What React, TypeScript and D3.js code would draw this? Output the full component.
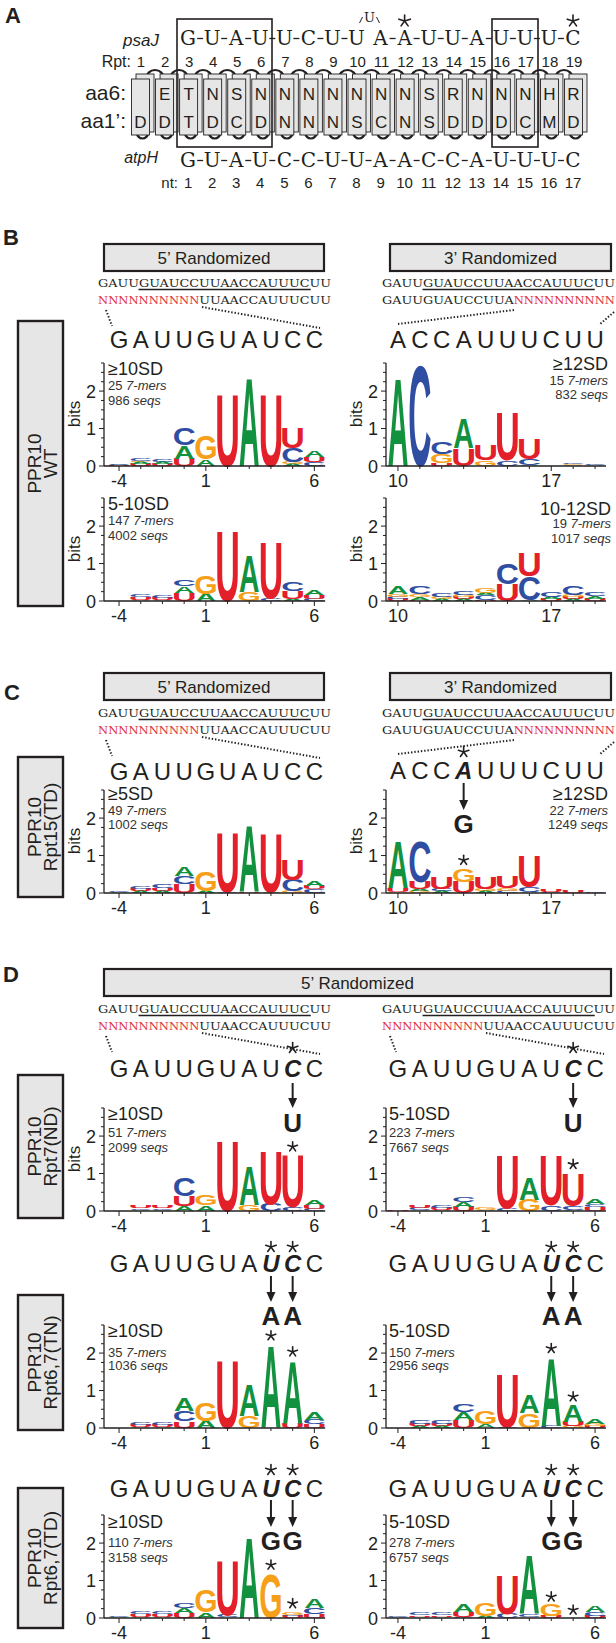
import React from "react";
import * as d3 from "d3";

const SANS = "'Liberation Sans', Arial, Helvetica, sans-serif";
const SERIF = "'DejaVu Serif', 'Liberation Serif', serif";
const INK_DARK = "#231f20";
const GREY = "#e6e6e6";
const RED_N = "#e1343f";
const COLORS: Record<string, string> = { A: "#12913f", C: "#2f4ea2", G: "#f6a01a", U: "#e3202a" };

// ---------- panel A data ----------
const rptNumbers = d3.range(1, 20);
const aa6 = ["", "E", "T", "N", "S", "N", "N", "N", "N", "N", "N", "N", "S", "R", "N", "N", "N", "H", "R"];
const aa1 = ["D", "D", "T", "D", "C", "D", "N", "N", "N", "S", "C", "N", "S", "D", "D", "D", "C", "M", "D"];
const psaJ = "GUAUUCUUAAUUAUUUC".split("");
const atpH = "GUAUCCUUAACCAUUUC".split("");
const ntNumbers = d3.range(1, 18);

// ---------- logo data ----------
const pos5 = [-4, -3, -2, -1, 1, 2, 3, 4, 5, 6];
const pos3 = [10, 11, 12, 13, 14, 15, 16, 17, 18, 19];
const ticks5 = [-4, 1, 6];
const ticks3 = [10, 17];
const target5 = "GAUUGUAUCC".split("");
const target3 = "ACCAUUUCUU".split("");
const probe = "GAUUGUAUCCUUAACCAUUUCUU";

type Stack = [string, number][];

const wt5Hi: Stack[] = [
  [["U", 0.02], ["A", 0.02], ["C", 0.03]],
  [["U", 0.05], ["A", 0.05], ["G", 0.03], ["C", 0.07]],
  [["U", 0.05], ["A", 0.05], ["C", 0.07]],
  [["U", 0.2], ["A", 0.35], ["C", 0.45]],
  [["A", 0.18], ["G", 0.65]],
  [["U", 1.95]],
  [["A", 2.4]],
  [["U", 1.95]],
  [["A", 0.05], ["G", 0.05], ["C", 0.38], ["U", 0.55]],
  [["C", 0.1], ["U", 0.14], ["A", 0.16]],
];
const wt5Lo: Stack[] = [
  [["A", 0.01]],
  [["A", 0.04], ["U", 0.06], ["C", 0.07]],
  [["A", 0.04], ["U", 0.05], ["C", 0.06]],
  [["U", 0.22], ["A", 0.18], ["C", 0.18]],
  [["A", 0.2], ["G", 0.5]],
  [["U", 1.9]],
  [["G", 0.25], ["A", 0.98]],
  [["C", 0.08], ["U", 1.52]],
  [["A", 0.06], ["U", 0.22], ["C", 0.25]],
  [["C", 0.06], ["U", 0.1], ["A", 0.12]],
];
const wt3Hi: Stack[] = [
  [["A", 2.38]],
  [["C", 2.72]],
  [["U", 0.08], ["G", 0.25], ["C", 0.32]],
  [["U", 0.47], ["A", 0.8]],
  [["G", 0.15], ["U", 0.42]],
  [["C", 0.15], ["U", 1.3]],
  [["A", 0.03], ["C", 0.16], ["U", 0.56]],
  [["U", 0.01]],
  [["A", 0.03], ["G", 0.02], ["C", 0.03]],
  [["A", 0.03], ["C", 0.04]],
];
const wt3Lo: Stack[] = [
  [["U", 0.06], ["C", 0.05], ["G", 0.08], ["A", 0.22]],
  [["U", 0.04], ["A", 0.07], ["G", 0.07], ["C", 0.22]],
  [["A", 0.05], ["G", 0.05], ["C", 0.1]],
  [["A", 0.05], ["U", 0.05], ["G", 0.05], ["C", 0.1]],
  [["U", 0.04], ["C", 0.12], ["A", 0.05], ["G", 0.14]],
  [["U", 0.45], ["C", 0.58]],
  [["A", 0.02], ["C", 0.65], ["U", 0.65]],
  [["U", 0.05], ["A", 0.05], ["C", 0.12]],
  [["A", 0.05], ["U", 0.05], ["G", 0.07], ["C", 0.25]],
  [["U", 0.05], ["A", 0.08], ["C", 0.1]],
];
const td15Five: Stack[] = [
  [["A", 0.04], ["C", 0.04]],
  [["A", 0.05], ["U", 0.05], ["C", 0.06]],
  [["A", 0.05], ["U", 0.08], ["C", 0.1]],
  [["U", 0.25], ["C", 0.2], ["A", 0.25]],
  [["A", 0.06], ["G", 0.52]],
  [["C", 0.03], ["U", 1.62]],
  [["U", 0.03], ["A", 1.82]],
  [["A", 0.03], ["U", 1.6]],
  [["G", 0.05], ["C", 0.3], ["U", 0.55]],
  [["C", 0.1], ["U", 0.1], ["A", 0.15]],
];
const td15Three: Stack[] = [
  [["G", 0.04], ["U", 0.1], ["A", 1.28]],
  [["G", 0.05], ["A", 0.05], ["U", 0.2], ["C", 1.1]],
  [["A", 0.06], ["C", 0.06], ["U", 0.3]],
  [["U", 0.3], ["G", 0.36]],
  [["A", 0.05], ["G", 0.06], ["U", 0.3]],
  [["C", 0.06], ["G", 0.08], ["U", 0.3]],
  [["A", 0.03], ["C", 0.12], ["U", 0.85]],
  [["C", 0.04], ["U", 0.06]],
  [["U", 0.05]],
  [["C", 0.04]],
];
const nd7Hi: Stack[] = [
  [["A", 0.01]],
  [["A", 0.04], ["C", 0.04], ["U", 0.05]],
  [["A", 0.04], ["C", 0.04], ["U", 0.05]],
  [["A", 0.13], ["U", 0.27], ["C", 0.48]],
  [["A", 0.15], ["G", 0.28]],
  [["U", 1.92]],
  [["G", 0.17], ["A", 1.05]],
  [["C", 0.2], ["U", 1.45]],
  [["C", 0.1], ["U", 1.4]],
  [["C", 0.05], ["U", 0.1], ["A", 0.15]],
];
const nd7Lo: Stack[] = [
  [["U", 0.03]],
  [["A", 0.04], ["C", 0.05], ["U", 0.06]],
  [["A", 0.04], ["U", 0.05], ["C", 0.06]],
  [["U", 0.12], ["A", 0.12], ["C", 0.15]],
  [["A", 0.03], ["G", 0.06]],
  [["C", 0.08], ["U", 1.47]],
  [["G", 0.3], ["A", 0.6]],
  [["C", 0.15], ["U", 1.36]],
  [["A", 0.03], ["C", 0.1], ["U", 0.9]],
  [["U", 0.1], ["C", 0.08], ["A", 0.12]],
];
const tn67Hi: Stack[] = [
  [["A", 0.01]],
  [["A", 0.04], ["U", 0.05], ["C", 0.07]],
  [["A", 0.04], ["U", 0.05], ["C", 0.06]],
  [["U", 0.18], ["C", 0.27], ["A", 0.35]],
  [["A", 0.2], ["G", 0.48]],
  [["U", 1.85]],
  [["G", 0.32], ["A", 0.85]],
  [["A", 2.25]],
  [["U", 0.12], ["A", 1.7]],
  [["U", 0.1], ["C", 0.12], ["A", 0.2]],
];
const tn67Lo: Stack[] = [
  [["A", 0.01]],
  [["A", 0.05], ["U", 0.07], ["C", 0.1]],
  [["A", 0.05], ["U", 0.07], ["C", 0.1]],
  [["U", 0.22], ["A", 0.22], ["C", 0.22]],
  [["A", 0.1], ["G", 0.35]],
  [["C", 0.04], ["U", 1.45]],
  [["G", 0.4], ["A", 0.5]],
  [["C", 0.06], ["A", 1.85]],
  [["G", 0.05], ["U", 0.12], ["A", 0.45]],
  [["U", 0.05], ["G", 0.05], ["A", 0.12]],
];
const td67Hi: Stack[] = [
  [["A", 0.03], ["C", 0.04]],
  [["A", 0.04], ["U", 0.06], ["C", 0.08]],
  [["A", 0.04], ["U", 0.06], ["C", 0.06]],
  [["U", 0.14], ["A", 0.12], ["C", 0.14]],
  [["A", 0.15], ["G", 0.6]],
  [["A", 0.03], ["C", 0.05], ["U", 1.5]],
  [["A", 2.2]],
  [["G", 1.2]],
  [["U", 0.05], ["C", 0.04], ["G", 0.08]],
  [["U", 0.1], ["C", 0.17], ["A", 0.25]],
];
const td67Lo: Stack[] = [
  [["A", 0.03], ["C", 0.04]],
  [["A", 0.04], ["U", 0.04], ["C", 0.05]],
  [["A", 0.04], ["U", 0.04], ["C", 0.05]],
  [["C", 0.04], ["U", 0.12], ["A", 0.2]],
  [["A", 0.06], ["G", 0.35]],
  [["C", 0.12], ["U", 1.05]],
  [["G", 0.04], ["C", 0.06], ["A", 1.6]],
  [["U", 0.05], ["G", 0.3]],
  [],
  [["U", 0.06], ["C", 0.1], ["A", 0.18]],
];

const sdLabels = ["≥10SD", "5-10SD", "≥12SD", "10-12SD", "≥5SD", "≥12SD", "≥10SD", "5-10SD", "≥10SD", "5-10SD", "≥10SD", "5-10SD"];
const kmerCounts = [25, 147, 15, 19, 49, 22, 51, 223, 35, 150, 110, 278];
const seqCounts = [986, 4002, 832, 1017, 1002, 1249, 2099, 7667, 1036, 2956, 3158, 6757];
const sideLabels = [["PPR10", "WT"], ["PPR10", "Rpt15(TD)"], ["PPR10", "Rpt7(ND)"], ["PPR10", "Rpt6,7(TN)"], ["PPR10", "Rpt6,7(TD)"]];

// columns
const COLS: Record<string, { axis: number; band: [number, number]; seqX: number }> = {
  L: { axis: 104, band: [108.2, 325.2], seqX: 98 },
  R: { axis: 386, band: [387, 606], seqX: 382 },
};

// ---------- small drawing helpers ----------
const INKW: Record<string, number> = { A: 0.72, C: 0.64, G: 0.68, U: 0.6 };

function Glyph({ ch, cx, yb, h, w }: any) {
  if (h <= 0) return null;
  const sx = w / (INKW[ch] * 100);
  const sy = h / 71.6;
  return (
    <text transform={`translate(${cx},${yb}) scale(${sx},${sy})`} fontSize={100} fontFamily={SANS}
      fontWeight="bold" textAnchor="middle" fill={COLORS[ch]}>{ch}</text>
  );
}

function Star({ x, y, r = 5, w = 1.6 }: any) {
  return (
    <g>
      {d3.range(5).map((k) => {
        const a = ((k * 72 - 90) * Math.PI) / 180;
        return <line key={k} x1={x} y1={y} x2={x + r * Math.cos(a)} y2={y + r * Math.sin(a)}
          stroke={INK_DARK} strokeWidth={w} strokeLinecap="round" />;
      })}
    </g>
  );
}

function Arrow({ x, y1, y2 }: any) {
  return (
    <g>
      <line x1={x} y1={y1} x2={x} y2={y2 - 8} stroke={INK_DARK} strokeWidth={2} />
      <path d={`M${x - 4.5},${y2 - 10}L${x + 4.5},${y2 - 10}L${x},${y2}Z`} fill={INK_DARK} />
    </g>
  );
}

function Dotted({ x1, y1, x2, y2 }: any) {
  return <line x1={x1} y1={y1} x2={x2} y2={y2} stroke={INK_DARK} strokeWidth={2} strokeDasharray="1.4 1.9" />;
}

// ---------- panel A ----------
function PanelA() {
  const rx = d3.scaleLinear().domain([1, 19]).range([141, 574]);
  const seqX = (i: number) => rx(i + 3) - 1;
  const seqRow = (letters: string[], base: number, gapAt: number) => (
    <g>
      {letters.map((c, i) => (
        <text key={i} x={seqX(i)} y={base} fontFamily={SERIF} fontSize={20} textAnchor="middle" fill={INK_DARK}>{c}</text>
      ))}
      {letters.slice(0, -1).map((_, i) => {
        if (i === gapAt) return null;
        const m = (seqX(i) + seqX(i + 1)) / 2;
        return <line key={"d" + i} x1={m - 3} x2={m + 3} y1={base - 6.5} y2={base - 6.5} stroke={INK_DARK} strokeWidth={1.3} />;
      })}
    </g>
  );
  return (
    <g>
      <text x={5} y={23} fontSize={22} fontWeight="bold">A</text>
      <text x={159} y={46} fontSize={17} fontStyle="italic" textAnchor="end">psaJ</text>
      {seqRow(psaJ, 45, 7)}
      {/* bulged U */}
      <text x={(rx(10) + rx(11)) / 2} y={22} fontFamily={SERIF} fontSize={13} textAnchor="middle">U</text>
      <line x1={(rx(10) + rx(11)) / 2 - 10} y1={23} x2={(rx(10) + rx(11)) / 2 - 7} y2={17} stroke={INK_DARK} strokeWidth={1} />
      <line x1={(rx(10) + rx(11)) / 2 + 7} y1={17} x2={(rx(10) + rx(11)) / 2 + 10} y2={23} stroke={INK_DARK} strokeWidth={1} />
      <Star x={rx(12) - 1} y={21} r={6} />
      <Star x={rx(19) - 1} y={21} r={6} />

      <text x={131} y={67} fontSize={16} textAnchor="end">Rpt:</text>
      {rptNumbers.map((n) => (
        <text key={n} x={rx(n)} y={67} fontSize={15} textAnchor="middle">{n}</text>
      ))}

      {/* loops behind the repeats */}
      {rptNumbers.slice(0, -1).map((n) => {
        const m = (rx(n) + rx(n + 1)) / 2 + 2;
        return <path key={"lt" + n} d={`M${m - 9},79 A9,9 0 0 1 ${m + 9},79`} fill="none" stroke={INK_DARK} strokeWidth={2.2} />;
      })}
      {rptNumbers.map((n) => (
        <path key={"lb" + n} d={`M${rx(n) - 4},133 A5.5,5.5 0 0 0 ${rx(n) + 7},133`} fill="none" stroke={INK_DARK} strokeWidth={2.2} />
      ))}
      {rptNumbers.map((n, i) => (
        <g key={"b" + n}>
          <rect x={rx(n) - 5} y={74} width={18} height={58} fill={GREY} stroke={INK_DARK} strokeWidth={0.9} />
          <rect x={rx(n) - 9.5} y={79} width={18} height={56} fill={GREY} stroke={INK_DARK} strokeWidth={0.9} />
          <text x={rx(n) - 0.5} y={100} fontSize={17} textAnchor="middle">{aa6[i]}</text>
          <text x={rx(n) - 0.5} y={128} fontSize={17} textAnchor="middle">{aa1[i]}</text>
        </g>
      ))}
      <text x={126} y={100} fontSize={21} textAnchor="end">aa6:</text>
      <text x={126} y={128} fontSize={21} textAnchor="end">aa1’:</text>

      <rect x={177} y={19} width={95} height={128} fill="none" stroke={INK_DARK} strokeWidth={1.6} />
      <rect x={492} y={19} width={46} height={128} fill="none" stroke={INK_DARK} strokeWidth={1.6} />

      <text x={158} y={163} fontSize={16} fontStyle="italic" textAnchor="end">atpH</text>
      {seqRow(atpH, 167, -1)}
      <text x={178} y={188} fontSize={15} textAnchor="end">nt:</text>
      {ntNumbers.map((n, i) => (
        <text key={n} x={seqX(i)} y={188} fontSize={15} textAnchor="middle">{n}</text>
      ))}
    </g>
  );
}

// ---------- panels B-D pieces ----------
function Header({ x1, x2, y, label }: any) {
  return (
    <g>
      <rect x={x1} y={y} width={x2 - x1} height={27} fill={GREY} stroke={INK_DARK} strokeWidth={2.2} />
      <text x={(x1 + x2) / 2} y={y + 20} fontSize={17} textAnchor="middle">{label}</text>
    </g>
  );
}

function ProbeLines({ sx, b1, kind }: any) {
  const cw = 233 / 23;
  const b2 = b1 + 17;
  const txt = (s: string, x: number, y: number, fill: string) => (
    <text x={x} y={y} fontFamily={SERIF} fontSize={11} textLength={s.length * cw} lengthAdjust="spacingAndGlyphs" fill={fill}>{s}</text>
  );
  const nRun = "N".repeat(10);
  return (
    <g>
      {txt(probe, sx, b1, INK_DARK)}
      <line x1={sx + 4 * cw} x2={sx + 21 * cw} y1={b1 + 2.5} y2={b1 + 2.5} stroke={INK_DARK} strokeWidth={1.3} />
      {kind === 5 ? (
        <g>
          {txt(nRun, sx, b2, RED_N)}
          {txt(probe.slice(10), sx + 10 * cw, b2, INK_DARK)}
          <Dotted x1={sx + 8} y1={b2 + 6} x2={sx + 14} y2={b2 + 22} />
          <Dotted x1={sx + 104} y1={b2 + 3} x2={sx + 222} y2={b2 + 24} />
        </g>
      ) : (
        <g>
          {txt(probe.slice(0, 13), sx, b2, INK_DARK)}
          {txt(nRun, sx + 13 * cw, b2, RED_N)}
          <Dotted x1={sx + 132} y1={b2 + 6} x2={sx + 16} y2={b2 + 20} />
          <Dotted x1={sx + 232} y1={b2 + 8} x2={sx + 217} y2={b2 + 21} />
        </g>
      )}
    </g>
  );
}

function BigSeq({ col, kind, y, mut = [], to = [], starY, arrow, toY }: any) {
  const positions = kind === 5 ? pos5 : pos3;
  const letters = kind === 5 ? target5 : target3;
  const x = d3.scaleBand<number>().domain(positions).range(COLS[col].band);
  const cx = (i: number) => (x(positions[i]) as number) + x.bandwidth() / 2;
  return (
    <g>
      {letters.map((c, i) => {
        const m = mut.includes(i);
        return (
          <text key={i} x={cx(i)} y={y} fontSize={24} textAnchor="middle" fill={INK_DARK}
            fontWeight={m ? "bold" : "normal"} fontStyle={m ? "italic" : "normal"}>{c}</text>
        );
      })}
      {mut.map((i: number, k: number) => (
        <g key={"m" + i}>
          <Star x={cx(i)} y={starY} r={5.5} />
          <Arrow x={cx(i)} y1={arrow[0]} y2={arrow[1]} />
          <text x={cx(i)} y={toY} fontSize={26} fontWeight="bold" textAnchor="middle">{to[k]}</text>
        </g>
      ))}
    </g>
  );
}

function Logo({ idx, stacks, col, y0, kind, annY, annRight, annX, bits, stars = [] }: any) {
  const positions = kind === 5 ? pos5 : pos3;
  const tickLabels = kind === 5 ? ticks5 : ticks3;
  const c = COLS[col];
  const x = d3.scaleBand<number>().domain(positions).range(c.band);
  const y = d3.scaleLinear().domain([0, 2.75]).range([y0, y0 - 103]);
  const bw = x.bandwidth();
  const yTicks = d3.range(0, 2.76, 0.25);
  const anchor = annRight ? "end" : "start";
  return (
    <g>
      {/* stacks */}
      {stacks.map((st: Stack, i: number) => {
        const cx = (x(positions[i]) as number) + bw / 2;
        let acc = 0;
        return (
          <g key={i}>
            {st.map(([ch, v], k) => {
              const yb = y(acc);
              acc += v;
              return <Glyph key={k} ch={ch} cx={cx} yb={yb} h={yb - y(acc)} w={bw * 0.94} />;
            })}
          </g>
        );
      })}
      {stars.map((p: number) => {
        const i = positions.indexOf(p);
        const top = d3.sum(stacks[i], (d: any) => d[1]);
        return <Star key={p} x={(x(p) as number) + bw / 2} y={y(top) - 8} r={5} />;
      })}
      {/* y axis */}
      <line x1={c.axis} x2={c.axis} y1={y0} y2={y(2.75)} stroke={INK_DARK} strokeWidth={1.3} />
      {yTicks.map((t) => {
        const major = Math.abs(t - Math.round(t)) < 1e-6;
        return <line key={t} x1={c.axis - (major ? 5 : 3)} x2={c.axis} y1={y(t)} y2={y(t)} stroke={INK_DARK} strokeWidth={1} />;
      })}
      {[0, 1, 2].map((t) => (
        <text key={t} x={c.axis - 8} y={y(t) + 6.5} fontSize={18} textAnchor="end">{t}</text>
      ))}
      {bits && (
        <text transform={`translate(${c.axis - 24},${y0 - 52}) rotate(-90)`} fontSize={17} textAnchor="middle">bits</text>
      )}
      {/* x axis */}
      <line x1={c.axis} x2={c.band[1]} y1={y0} y2={y0} stroke={INK_DARK} strokeWidth={1.3} />
      {positions.map((p) => {
        const lab = tickLabels.includes(p);
        const cx = (x(p) as number) + bw / 2;
        return (
          <g key={p}>
            <line x1={cx} x2={cx} y1={y0} y2={y0 + (lab ? 5 : 3)} stroke={INK_DARK} strokeWidth={1} />
            {lab && <text x={cx} y={y0 + 21} fontSize={18} textAnchor="middle">{p}</text>}
          </g>
        );
      })}
      {/* annotation */}
      <text x={annX} y={y0 + annY[0]} fontSize={18} textAnchor={anchor}>{sdLabels[idx]}</text>
      <text x={annX} y={y0 + annY[1]} fontSize={13} textAnchor={anchor} fill="#333">
        {kmerCounts[idx] + " "}<tspan fontStyle="italic">7-mers</tspan>
      </text>
      <text x={annX} y={y0 + annY[2]} fontSize={13} textAnchor={anchor} fill="#333">
        {seqCounts[idx] + " "}<tspan fontStyle="italic">seqs</tspan>
      </text>
    </g>
  );
}

function SideBox({ y1, y2, lines }: any) {
  const cy = (y1 + y2) / 2;
  return (
    <g>
      <rect x={18} y={y1} width={45} height={y2 - y1} fill={GREY} stroke={INK_DARK} strokeWidth={2.4} />
      <text transform={`translate(41,${cy}) rotate(-90)`} fontSize={19} textAnchor="middle">{lines[0]}</text>
      <text transform={`translate(57,${cy}) rotate(-90)`} fontSize={19} textAnchor="middle">{lines[1]}</text>
    </g>
  );
}

// layout of the 12 logos
const logoLayout = [
  { stacks: wt5Hi, col: "L", y0: 466, kind: 5, annY: [-91, -76, -61], annX: 108, bits: true },
  { stacks: wt5Lo, col: "L", y0: 601, kind: 5, annY: [-91, -76, -61], annX: 108, bits: true },
  { stacks: wt3Hi, col: "R", y0: 466, kind: 3, annY: [-96, -81, -67], annX: 608, annRight: true, bits: true },
  { stacks: wt3Lo, col: "R", y0: 601, kind: 3, annY: [-86, -73, -58], annX: 611, annRight: true, bits: true },
  { stacks: td15Five, col: "L", y0: 893, kind: 5, annY: [-93, -78, -64], annX: 108, bits: true },
  { stacks: td15Three, col: "R", y0: 893, kind: 3, annY: [-93, -78, -64], annX: 608, annRight: true, bits: true, stars: [13] },
  { stacks: nd7Hi, col: "L", y0: 1211, kind: 5, annY: [-91, -74, -59], annX: 108, bits: true, stars: [5] },
  { stacks: nd7Lo, col: "R", y0: 1211, kind: 5, annY: [-91, -74, -59], annX: 389, stars: [5] },
  { stacks: tn67Hi, col: "L", y0: 1428, kind: 5, annY: [-91, -71, -58], annX: 108, stars: [4, 5] },
  { stacks: tn67Lo, col: "R", y0: 1428, kind: 5, annY: [-91, -71, -58], annX: 389, stars: [4, 5] },
  { stacks: td67Hi, col: "L", y0: 1618, kind: 5, annY: [-90, -71, -56], annX: 108, stars: [4, 5] },
  { stacks: td67Lo, col: "R", y0: 1618, kind: 5, annY: [-90, -71, -56], annX: 389, stars: [4, 5] },
];

const bigRows = [
  { col: "L", kind: 5, y: 348 },
  { col: "R", kind: 3, y: 348 },
  { col: "L", kind: 5, y: 780 },
  { col: "R", kind: 3, y: 779, mut: [3], to: ["G"], starY: 752, arrow: [783, 810], toY: 833 },
  { col: "L", kind: 5, y: 1077, mut: [8], to: ["U"], starY: 1048, arrow: [1083, 1108], toY: 1132 },
  { col: "R", kind: 5, y: 1077, mut: [8], to: ["U"], starY: 1048, arrow: [1083, 1108], toY: 1132 },
  { col: "L", kind: 5, y: 1272, mut: [7, 8], to: ["A", "A"], starY: 1247, arrow: [1276, 1302], toY: 1325 },
  { col: "R", kind: 5, y: 1272, mut: [7, 8], to: ["A", "A"], starY: 1247, arrow: [1276, 1302], toY: 1325 },
  { col: "L", kind: 5, y: 1497, mut: [7, 8], to: ["G", "G"], starY: 1470, arrow: [1500, 1527], toY: 1550 },
  { col: "R", kind: 5, y: 1497, mut: [7, 8], to: ["G", "G"], starY: 1470, arrow: [1500, 1527], toY: 1550 },
];

export default function App() {
  return (
    <svg width={616} height={1643} viewBox="0 0 616 1643" fontFamily={SANS} fill={INK_DARK}
      style={{ position: "absolute", left: 0, top: 0, display: "block" }}>
      <rect width={616} height={1643} fill="#fff" />
      <PanelA />

      {/* B */}
      <text x={3} y={245} fontSize={22} fontWeight="bold">B</text>
      <Header x1={104} x2={324} y={244} label="5’ Randomized" />
      <Header x1={390} x2={611} y={244} label="3’ Randomized" />
      <ProbeLines sx={COLS.L.seqX} b1={287} kind={5} />
      <ProbeLines sx={COLS.R.seqX} b1={287} kind={3} />
      <SideBox y1={321} y2={606} lines={sideLabels[0]} />

      {/* C */}
      <text x={4} y={700} fontSize={22} fontWeight="bold">C</text>
      <Header x1={104} x2={324} y={673} label="5’ Randomized" />
      <Header x1={390} x2={611} y={673} label="3’ Randomized" />
      <ProbeLines sx={COLS.L.seqX} b1={717} kind={5} />
      <ProbeLines sx={COLS.R.seqX} b1={717} kind={3} />
      <SideBox y1={757} y2={897} lines={sideLabels[1]} />

      {/* D */}
      <text x={3} y={982} fontSize={22} fontWeight="bold">D</text>
      <Header x1={104} x2={611} y={969} label="5’ Randomized" />
      <ProbeLines sx={COLS.L.seqX} b1={1013} kind={5} />
      <ProbeLines sx={COLS.R.seqX} b1={1013} kind={5} />
      <SideBox y1={1075} y2={1218} lines={sideLabels[2]} />
      <SideBox y1={1295} y2={1430} lines={sideLabels[3]} />
      <SideBox y1={1488} y2={1628} lines={sideLabels[4]} />

      {bigRows.map((r, i) => <BigSeq key={"s" + i} {...r} />)}
      {logoLayout.map((l, i) => <Logo key={"l" + i} idx={i} {...l} />)}
    </svg>
  );
}
